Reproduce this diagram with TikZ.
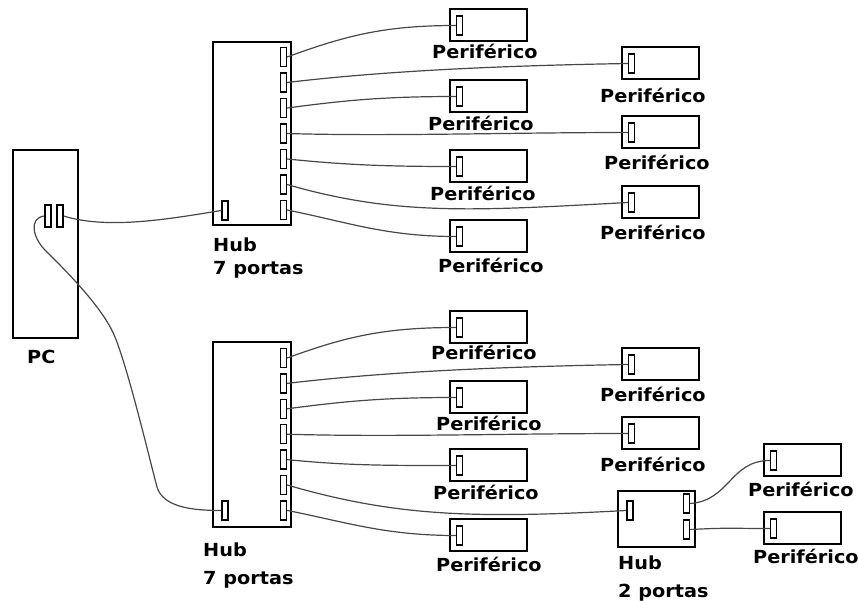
\documentclass[tikz,border=0pt]{standalone}
\usepackage{fontspec}
\usepackage{graphicx}
\newfontfamily\lblfont{DejaVu Sans}
\newcommand\wtxt[1]{\scalebox{1.07}[1]{#1}}
\tikzset{
  boxst/.style={draw, line width=1.6pt, rectangle, inner sep=0pt},
  port/.style={draw, line width=1.3pt, rectangle, inner sep=0pt, minimum width=6pt, minimum height=19pt},
  lbl/.style={inner sep=0pt, anchor=base west, font=\lblfont\bfseries\fontsize{18}{21}\selectfont},
  cable/.style={draw=black!72, line width=1.2pt},
}
\newcommand\periph[5]{%
  \node[boxst, minimum width=77pt, minimum height=32pt] (#1) at (#2+38.5,#3+16) {};
  \node[port] (#1p) at (#2+9.5,#3+16.5) {};
  \node[lbl] (#1l) at (#4,#5) {\wtxt{Periférico}};
}
\begin{document}
\begin{tikzpicture}[x=1pt,y=-1pt]
\useasboundingbox (0,0) rectangle (859,600);
% PC
\node[boxst, minimum width=65pt, minimum height=188pt] (pc) at (45.5,244) {};
\node[port, minimum height=22pt] (pcL) at (48,216) {};
\node[port, minimum height=22pt] (pcR) at (60,216) {};
\node[lbl] (pcl) at (27,363) {\wtxt{PC}};
% Hub 1
\node[boxst, minimum width=78pt, minimum height=183pt] (h1) at (252,133.5) {};
\node[port] (h1in) at (225,210.5) {};
\foreach \i in {1,...,7} {
  \node[port] (h1p\i) at (283.5,{57+25.5*(\i-1)}) {};
}
\node[lbl] (h1l1) at (213,251) {\wtxt{Hub}};
\node[lbl] (h1l2) at (213,274) {\wtxt{7 portas}};
% Hub 2
\node[boxst, minimum width=78pt, minimum height=185pt] (h2) at (252,434.5) {};
\node[port] (h2in) at (225,510.5) {};
\foreach \i in {1,...,7} {
  \node[port] (h2p\i) at (283.5,{358+25.4*(\i-1)}) {};
}
\node[lbl] (h2l1) at (203,556) {\wtxt{Hub}};
\node[lbl] (h2l2) at (203,584) {\wtxt{7 portas}};
% Hub 2 portas
\node[boxst, minimum width=77pt, minimum height=56pt] (h3) at (656.5,519) {};
\node[port] (h3in) at (630,510.5) {};
\node[port] (h3p1) at (686.5,503.5) {};
\node[port] (h3p2) at (686.5,529.5) {};
\node[lbl] (h3l1) at (618,569) {\wtxt{Hub}};
\node[lbl] (h3l2) at (618,597) {\wtxt{2 portas}};
% Peripherals
\periph{A1}{450}{9}{432}{58}
\periph{A2}{450}{80}{428}{130}
\periph{A3}{450}{150}{430}{200}
\periph{A4}{450}{220}{438}{272}
\periph{B1}{450}{311}{431}{359}
\periph{B2}{450}{381}{436}{430}
\periph{B3}{450}{449}{433}{499}
\periph{B4}{450}{519}{436}{571}
\periph{C1}{622}{47}{600}{102}
\periph{C2}{622}{116}{604}{169}
\periph{C3}{622}{186}{600}{239}
\periph{D1}{622}{348}{600}{401}
\periph{D2}{622}{417}{600}{471}
\periph{E1}{764}{444}{748}{496}
\periph{E2}{764}{512}{753}{563}
% Cables PC
\draw[cable] (pcR.east) .. controls +(45,14) and +(-50,8) .. (h1in.west);
\draw[cable] (pcL.west) .. controls +(-16,2) and +(-12,-12) .. (45,250)
  .. controls +(18,18) and +(-12,-30) .. (115,337)
  .. controls +(14,35) and +(-8,-30) .. (157,487)
  .. controls +(6,20) and +(-30,0) .. (h2in.west);
% Cables Hub 1
\draw[cable] (h1p1.east) .. controls +(60,-22) and +(-70,0) .. (A1p.west);
\draw[cable] (h1p2.east) .. controls +(100,-12) and +(-120,2) .. (C1p.west);
\draw[cable] (h1p3.east) .. controls +(60,-8) and +(-70,0) .. (A2p.west);
\draw[cable] (h1p4.east) .. controls +(100,3) and +(-120,0) .. (C2p.west);
\draw[cable] (h1p5.east) .. controls +(60,6) and +(-70,0) .. (A3p.west);
\draw[cable] (h1p6.east) .. controls +(110,32) and +(-150,8) .. (C3p.west);
\draw[cable] (h1p7.east) .. controls +(60,12) and +(-70,0) .. (A4p.west);
% Cables Hub 2
\draw[cable] (h2p1.east) .. controls +(60,-22) and +(-70,0) .. (B1p.west);
\draw[cable] (h2p2.east) .. controls +(100,-12) and +(-120,2) .. (D1p.west);
\draw[cable] (h2p3.east) .. controls +(60,-8) and +(-70,0) .. (B2p.west);
\draw[cable] (h2p4.east) .. controls +(100,3) and +(-120,0) .. (D2p.west);
\draw[cable] (h2p5.east) .. controls +(60,6) and +(-70,0) .. (B3p.west);
\draw[cable] (h2p6.east) .. controls +(110,32) and +(-150,8) .. (h3in.west);
\draw[cable] (h2p7.east) .. controls +(60,12) and +(-70,0) .. (B4p.west);
% Cables Hub 2 portas
\draw[cable] (h3p1.east) .. controls +(40,-3) and +(-40,0) .. (E1p.west);
\draw[cable] (h3p2.east) .. controls +(40,-2) and +(-40,0) .. (E2p.west);
\end{tikzpicture}
\end{document}
